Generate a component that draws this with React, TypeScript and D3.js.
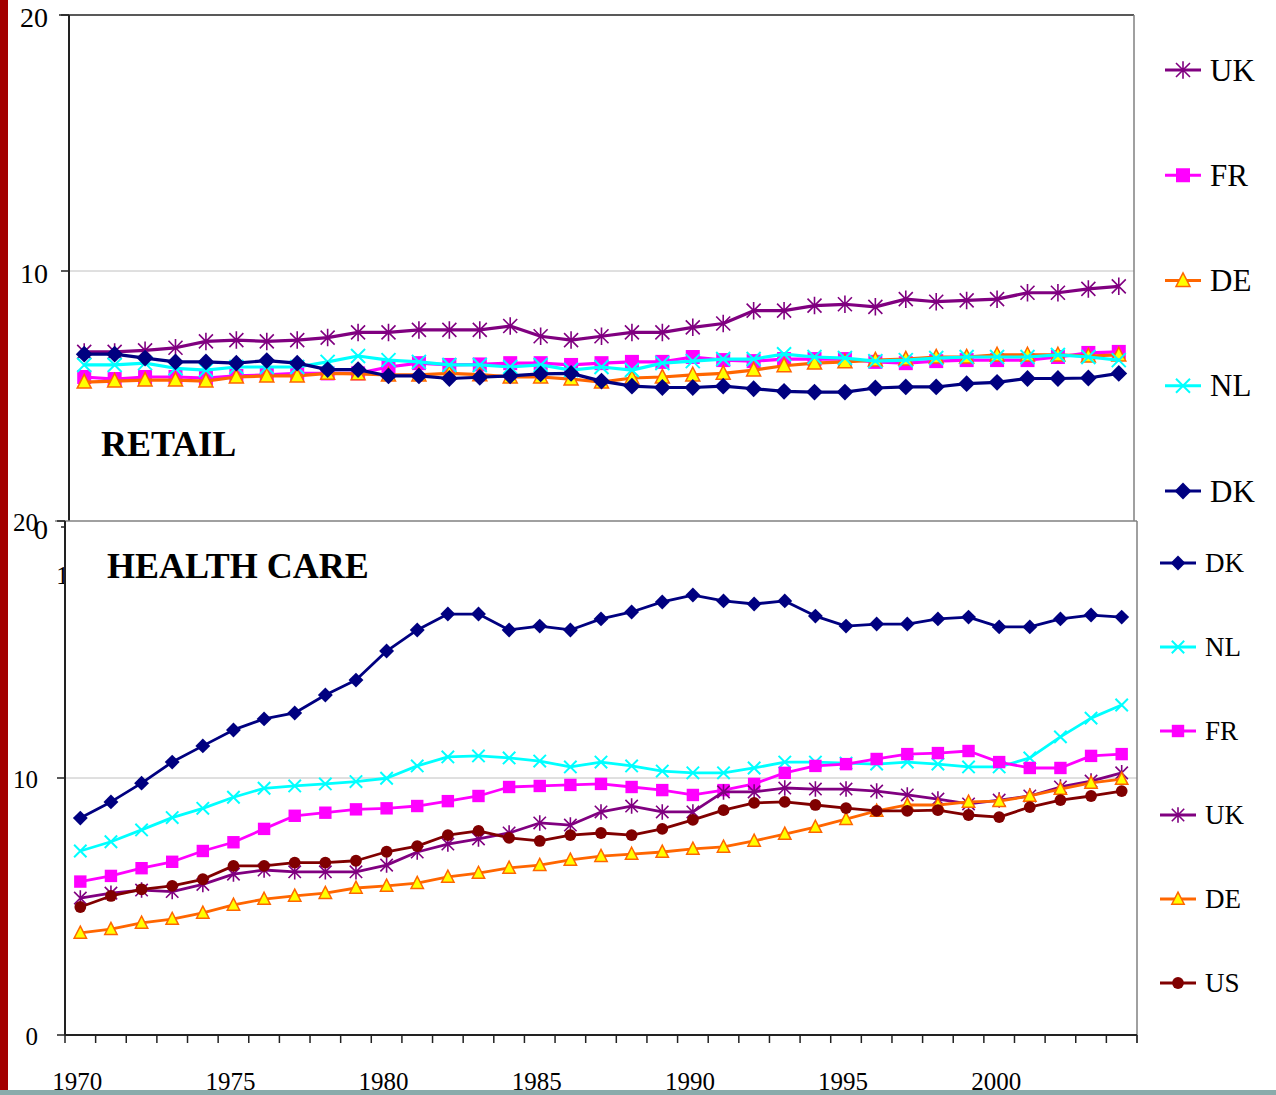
import React from "react";
import * as d3 from "d3";

const years = [
  1970, 1971, 1972, 1973, 1974, 1975, 1976, 1977, 1978, 1979,
  1980, 1981, 1982, 1983, 1984, 1985, 1986, 1987, 1988, 1989,
  1990, 1991, 1992, 1993, 1994, 1995, 1996, 1997, 1998, 1999,
  2000, 2001, 2002, 2003, 2004,
];
const xLabels = [1970, 1975, 1980, 1985, 1990, 1995, 2000];
const yTicks = [0, 10, 20];

// RETAIL
const retailUK = [
  6.84, 6.84, 6.9, 7.0, 7.25, 7.3, 7.25, 7.3, 7.4, 7.6,
  7.6, 7.7, 7.7, 7.7, 7.85, 7.45, 7.3, 7.45, 7.6, 7.6,
  7.8, 7.95, 8.45, 8.45, 8.65, 8.7, 8.6, 8.9, 8.8, 8.85,
  8.9, 9.15, 9.15, 9.3, 9.4,
];
const retailFR = [
  5.86, 5.78, 5.86, 5.86, 5.82, 5.9, 5.94, 6.0, 6.0, 6.0,
  6.25, 6.4, 6.33, 6.35, 6.4, 6.4, 6.33, 6.4, 6.45, 6.45,
  6.64, 6.52, 6.48, 6.56, 6.56, 6.56, 6.45, 6.4, 6.48, 6.52,
  6.52, 6.52, 6.64, 6.8, 6.84,
];
const retailDE = [
  5.66, 5.7, 5.74, 5.74, 5.7, 5.86, 5.9, 5.9, 6.0, 5.98,
  5.94, 5.94, 6.0, 5.95, 5.86, 5.86, 5.78, 5.66, 5.82, 5.86,
  5.94, 6.0, 6.13, 6.3, 6.4, 6.45, 6.52, 6.56, 6.64, 6.64,
  6.72, 6.72, 6.72, 6.68, 6.72,
];
const retailNL = [
  6.33, 6.33, 6.4, 6.2, 6.13, 6.25, 6.25, 6.25, 6.45, 6.68,
  6.52, 6.45, 6.33, 6.33, 6.25, 6.33, 6.13, 6.25, 6.13, 6.4,
  6.48, 6.56, 6.56, 6.75, 6.64, 6.6, 6.48, 6.52, 6.6, 6.64,
  6.64, 6.64, 6.72, 6.64, 6.52,
];
const retailDK = [
  6.75, 6.75, 6.6, 6.45, 6.45, 6.4, 6.5, 6.4, 6.15, 6.15,
  5.9, 5.9, 5.8, 5.85, 5.9, 5.98, 6.0, 5.7, 5.5, 5.45,
  5.45, 5.5, 5.4, 5.3, 5.27, 5.27, 5.43, 5.47, 5.47, 5.6,
  5.65, 5.8, 5.8, 5.82, 6.0,
];

// HEALTH CARE
const healthDK = [
  8.44, 9.07, 9.8, 10.62, 11.25, 11.87, 12.3, 12.53, 13.23, 13.81,
  14.94, 15.76, 16.38, 16.38, 15.76, 15.91, 15.76, 16.19, 16.46, 16.85,
  17.12, 16.89, 16.77, 16.89, 16.3, 15.91, 15.99, 15.99, 16.19, 16.26,
  15.88, 15.88, 16.19, 16.34, 16.26,
];
const healthNL = [
  7.16, 7.52, 7.98, 8.46, 8.82, 9.25, 9.6, 9.69, 9.77, 9.86,
  9.99, 10.47, 10.82, 10.86, 10.78, 10.66, 10.43, 10.62, 10.47, 10.27,
  10.2, 10.2, 10.39, 10.62, 10.62, 10.58, 10.54, 10.62, 10.54, 10.43,
  10.43, 10.78, 11.6, 12.33, 12.84,
];
const healthFR = [
  5.97, 6.19, 6.49, 6.74, 7.16, 7.5, 8.02, 8.53, 8.65, 8.78,
  8.82, 8.91, 9.1, 9.3, 9.65, 9.69, 9.73, 9.77, 9.65, 9.53,
  9.34, 9.53, 9.77, 10.2, 10.47, 10.54, 10.74, 10.93, 10.97, 11.05,
  10.62, 10.39, 10.39, 10.86, 10.93,
];
const healthUK = [
  5.33, 5.52, 5.64, 5.58, 5.86, 6.26, 6.42, 6.35, 6.35, 6.35,
  6.61, 7.12, 7.43, 7.63, 7.86, 8.25, 8.17, 8.68, 8.91, 8.68,
  8.68, 9.46, 9.46, 9.61, 9.57, 9.57, 9.49, 9.34, 9.18, 8.99,
  9.14, 9.3, 9.65, 9.88, 10.2,
];
const healthDE = [
  3.97, 4.12, 4.36, 4.51, 4.75, 5.06, 5.29, 5.41, 5.52, 5.72,
  5.8, 5.91, 6.15, 6.3, 6.5, 6.61, 6.81, 6.96, 7.04, 7.12,
  7.24, 7.32, 7.55, 7.82, 8.09, 8.4, 8.72, 8.95, 8.95, 9.07,
  9.1, 9.3, 9.57, 9.81, 9.96,
];
const healthUS = [
  4.98, 5.41, 5.67, 5.8, 6.06, 6.58, 6.58, 6.71, 6.71, 6.78,
  7.13, 7.35, 7.78, 7.94, 7.67, 7.55, 7.78, 7.86, 7.78, 8.02,
  8.37, 8.75, 9.03, 9.07, 8.95, 8.83, 8.72, 8.72, 8.75, 8.56,
  8.48, 8.87, 9.14, 9.3, 9.49,
];

type Mark = "star" | "square" | "triangle" | "cross" | "diamond" | "circle";
type Series = { name: string; values: number[] };

const look: Record<string, { line: string; mark: Mark; fill: string; edge: string }> = {
  UK: { line: "#800080", mark: "star", fill: "none", edge: "#800080" },
  FR: { line: "#ff00ff", mark: "square", fill: "#ff00ff", edge: "#ff00ff" },
  DE: { line: "#ff6600", mark: "triangle", fill: "#ffff00", edge: "#ff6600" },
  NL: { line: "#00ffff", mark: "cross", fill: "none", edge: "#00ffff" },
  DK: { line: "#000080", mark: "diamond", fill: "#000080", edge: "#000080" },
  US: { line: "#800000", mark: "circle", fill: "#800000", edge: "#800000" },
};

const retail: Series[] = [
  { name: "UK", values: retailUK },
  { name: "FR", values: retailFR },
  { name: "DE", values: retailDE },
  { name: "NL", values: retailNL },
  { name: "DK", values: retailDK },
];
const health: Series[] = [
  { name: "DK", values: healthDK },
  { name: "NL", values: healthNL },
  { name: "FR", values: healthFR },
  { name: "UK", values: healthUK },
  { name: "DE", values: healthDE },
  { name: "US", values: healthUS },
];

const serif = "'Liberation Serif', 'Times New Roman', serif";

function Marker({ kind, x, y, r, name }: { kind: Mark; x: number; y: number; r: number; name: string }) {
  const s = look[name];
  const t = `translate(${x},${y})`;
  switch (kind) {
    case "square":
      return <rect transform={t} x={-r} y={-r} width={2 * r} height={2 * r} fill={s.fill} />;
    case "diamond":
      return <path transform={t} d={`M0,${-r * 1.2}L${r * 1.2},0L0,${r * 1.2}L${-r * 1.2},0Z`} fill={s.fill} />;
    case "triangle":
      return (
        <path transform={t} d={`M0,${-r * 1.1}L${r},${r * 0.85}L${-r},${r * 0.85}Z`}
          fill={s.fill} stroke={s.edge} strokeWidth={1.5} strokeLinejoin="miter" />
      );
    case "circle":
      return <circle transform={t} r={r * 0.95} fill={s.fill} />;
    case "cross":
      return (
        <path transform={t} d={`M${-r},${-r}L${r},${r}M${-r},${r}L${r},${-r}`}
          stroke={s.edge} strokeWidth={2} fill="none" />
      );
    case "star":
    default:
      return (
        <path transform={t} d={`M${-r},${-r}L${r},${r}M${-r},${r}L${r},${-r}M0,${-r * 1.25}L0,${r * 1.25}`}
          stroke={s.edge} strokeWidth={1.6} fill="none" />
      );
  }
}

type PanelProps = {
  series: Series[];
  left: number;
  right: number;
  top: number;
  bottom: number;
  title: string;
  titleX: number;
  titleY: number;
  labelX: number;
  labelSize: number;
  labelDy: number;
  xLabelY: number;
  legendX: number;
  legendTop: number;
  legendBottom: number;
  legendSize: number;
  markR: number;
  lineW: number;
  topEdge: string;
};

function Panel(p: PanelProps) {
  const x = d3.scaleBand<number>().domain(years).range([p.left, p.right]);
  const cx = (yr: number) => (x(yr) as number) + x.bandwidth() / 2;
  const y = d3.scaleLinear().domain([0, 20]).range([p.bottom, p.top]);
  const line = d3
    .line<number>()
    .x((_, i) => cx(years[i]))
    .y((v) => y(v));
  const legendY = d3
    .scalePoint<string>()
    .domain(p.series.map((s) => s.name))
    .range([p.legendTop, p.legendBottom]);
  const boundaries = [...years.map((yr) => x(yr) as number), p.right];

  return (
    <g>
      <rect x={p.left} y={p.top} width={p.right - p.left} height={p.bottom - p.top} fill="#fff" />
      <line x1={p.left} x2={p.right} y1={y(10)} y2={y(10)} stroke="#c0c0c0" strokeWidth={1} />
      <line x1={p.left - 10} x2={p.right} y1={p.top} y2={p.top} stroke={p.topEdge} strokeWidth={1.5} />
      <line x1={p.right} x2={p.right} y1={p.top} y2={p.bottom + 8} stroke="#808080" strokeWidth={1.5} />
      {/* y axis */}
      <line x1={p.left} x2={p.left} y1={p.top} y2={p.bottom} stroke="#222" strokeWidth={2} />
      {yTicks.map((t) => (
        <g key={t}>
          <line x1={p.left - 8} x2={p.left} y1={y(t)} y2={y(t)} stroke="#222" strokeWidth={1.5} />
          <text x={p.labelX} y={y(t) + p.labelDy} textAnchor="end" fontFamily={serif} fontSize={p.labelSize} fill="#000">
            {t}
          </text>
        </g>
      ))}
      {/* x axis */}
      <line x1={p.left} x2={p.right} y1={p.bottom} y2={p.bottom} stroke="#222" strokeWidth={2} />
      {boundaries.map((b, i) => (
        <line key={i} x1={b} x2={b} y1={p.bottom} y2={p.bottom + 8} stroke="#222" strokeWidth={1.5} />
      ))}
      {xLabels.map((yr) => (
        <text key={yr} x={cx(yr) - 3} y={p.xLabelY} textAnchor="middle" fontFamily={serif} fontSize={25} fill="#000">
          {yr}
        </text>
      ))}
      {/* series */}
      {p.series.map((s) => (
        <g key={s.name}>
          <path d={line(s.values) ?? ""} fill="none" stroke={look[s.name].line} strokeWidth={p.lineW} strokeLinejoin="round" />
          {s.values.map((v, i) => (
            <Marker key={i} kind={look[s.name].mark} name={s.name} x={cx(years[i])} y={y(v)} r={p.markR} />
          ))}
        </g>
      ))}
      <text x={p.titleX} y={p.titleY} fontFamily={serif} fontWeight="bold" fontSize={36} fill="#000">
        {p.title}
      </text>
      {/* legend */}
      {p.series.map((s) => {
        const ly = legendY(s.name) as number;
        return (
          <g key={s.name}>
            <line x1={p.legendX} x2={p.legendX + 36} y1={ly} y2={ly} stroke={look[s.name].line} strokeWidth={p.lineW} />
            <Marker kind={look[s.name].mark} name={s.name} x={p.legendX + 18} y={ly} r={p.markR} />
            <text x={p.legendX + 45} y={ly + p.legendSize * 0.34} fontFamily={serif} fontSize={p.legendSize} fill="#000">
              {s.name}
            </text>
          </g>
        );
      })}
    </g>
  );
}

export default function App() {
  return (
    <svg width={1276} height={1095} style={{ position: "absolute", left: 0, top: 0, background: "#fff" }}>
      <rect x={0} y={0} width={1276} height={1095} fill="#fff" />
      <Panel
        series={retail}
        left={69}
        right={1134}
        top={15}
        bottom={527}
        title="RETAIL"
        titleX={101}
        titleY={456}
        labelX={48}
        labelSize={28}
        labelDy={12}
        xLabelY={584}
        legendX={1165}
        legendTop={70}
        legendBottom={491}
        legendSize={31}
        markR={7}
        lineW={3.2}
        topEdge="#222"
      />
      <Panel
        series={health}
        left={65}
        right={1137}
        top={521}
        bottom={1035}
        title="HEALTH CARE"
        titleX={107}
        titleY={578}
        labelX={38}
        labelSize={25}
        labelDy={10}
        xLabelY={1090}
        legendX={1160}
        legendTop={563}
        legendBottom={983}
        legendSize={27}
        markR={6.2}
        lineW={2.8}
        topEdge="#808080"
      />
      <rect x={0} y={0} width={8} height={1095} fill="#a30000" />
      <rect x={0} y={1090} width={1276} height={5} fill="#8aabab" />
    </svg>
  );
}
